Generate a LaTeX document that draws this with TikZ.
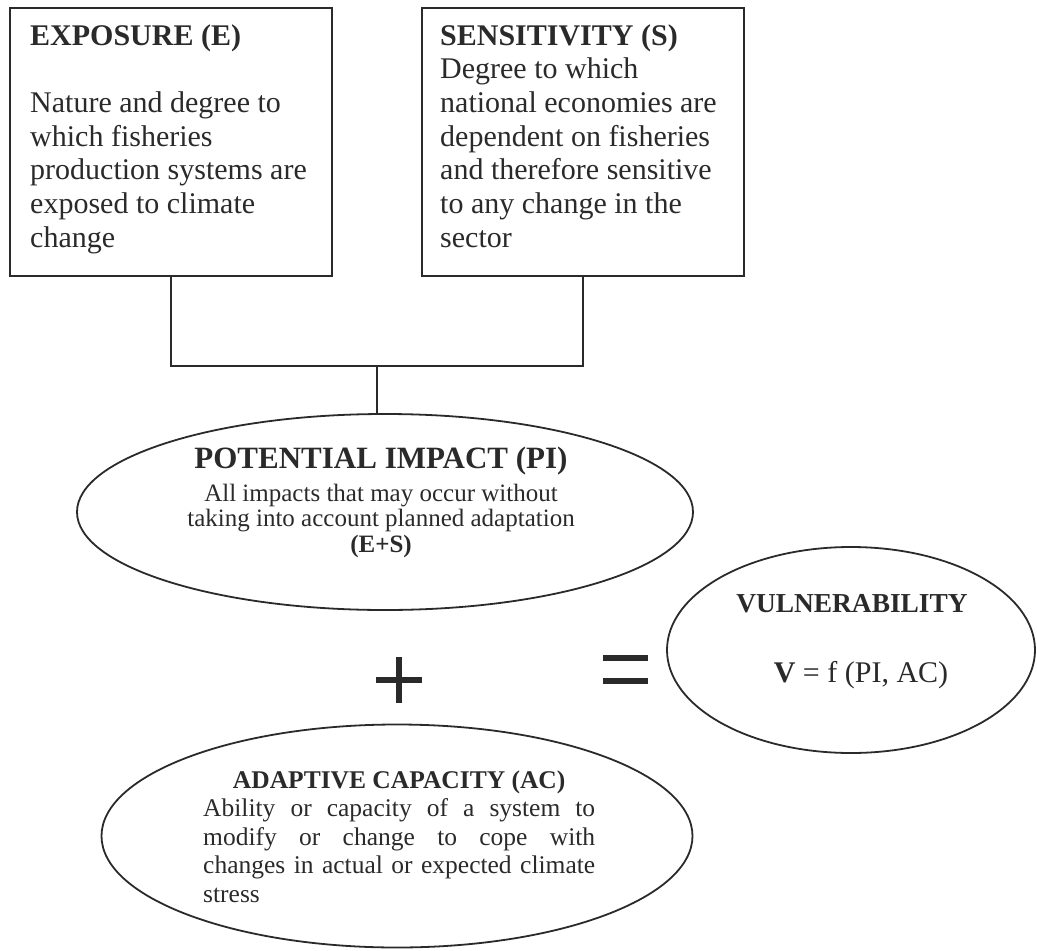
\documentclass[tikz,border=0pt]{standalone}
\usepackage{fontspec}
\setmainfont{Liberation Serif}
\usetikzlibrary{shapes.geometric}
\definecolor{ink}{HTML}{2A2A2A}
\begin{document}
\begin{tikzpicture}[x=1pt,y=-1pt,
  box/.style={draw=ink, line width=1.8pt, rectangle, inner sep=0pt, anchor=north west},
  oval/.style={draw=ink, line width=1.8pt, ellipse, inner sep=0pt},
  txt/.style={inner sep=0pt, text=ink},
  link/.style={draw=ink, line width=1.6pt},
  sym/.style={draw=ink, line width=5.5pt}]
\useasboundingbox (0,0) rectangle (1037,951);

% boxes
\node[box, minimum width=322pt, minimum height=268pt] (E) at (9,7) {};
\node[box, minimum width=322pt, minimum height=268pt] (S) at (421,7) {};

\node[txt, anchor=base west] (Et) at (30,45) {\parbox[t]{300pt}{\fontsize{30}{33.7}\selectfont\raggedright
\textbf{EXPOSURE (E)}\\[33.7pt]
Nature and degree to\\
which fisheries\\
production systems are\\
exposed to climate\\
change}};

\node[txt, anchor=base west] (St) at (440,45) {\parbox[t]{300pt}{\fontsize{30}{33.7}\selectfont\raggedright
\textbf{SENSITIVITY (S)}\\
Degree to which\\
national economies are\\
dependent on fisheries\\
and therefore sensitive\\
to any change in the\\
sector}};

% potential impact
\node[oval, minimum width=616pt, minimum height=196pt] (PI) at (385,512) {};
\node[txt, anchor=base] (PIt) at (381,468) {\parbox[t]{480pt}{\centering
{\fontsize{31}{33}\selectfont\bfseries POTENTIAL IMPACT (PI)\par}
\fontsize{25}{25.5}\selectfont\vspace{7.5pt}
All impacts that may occur without\\
taking into account planned adaptation\\
\textbf{(E+S)}\par}};

% connectors
\coordinate (J) at (377,366);
\draw[link] (E.south) |- (J) -| (S.south);
\draw[link] (J) -- (J |- PI.north);

% vulnerability
\node[oval, minimum width=368pt, minimum height=206pt] (V) at (851,650) {};
\node[txt, anchor=base] (Vh) at (852,612) {\fontsize{27.4}{30}\selectfont\bfseries VULNERABILITY};
\node[txt, anchor=base] (Vf) at (861,682) {\fontsize{30}{33}\selectfont\textbf{V} = f (PI, AC)};

% plus and equals
\draw[sym] (376,680) -- (422,680);
\draw[sym] (399,657) -- (399,703);
\draw[sym] (603,658) -- (648,658);
\draw[sym] (603,681) -- (648,681);

% adaptive capacity
\node[oval, minimum width=591pt, minimum height=223pt] (AC) at (397,836) {};
\node[txt, anchor=base west] (ACt) at (203,788) {\parbox[t]{392pt}{\fontsize{25.5}{28.5}\selectfont
{\centering\bfseries ADAPTIVE CAPACITY (AC)\par}
Ability or capacity of a system to\linebreak
modify or change to cope with\linebreak
changes in actual or expected climate\linebreak
stress}};
\end{tikzpicture}
\end{document}
